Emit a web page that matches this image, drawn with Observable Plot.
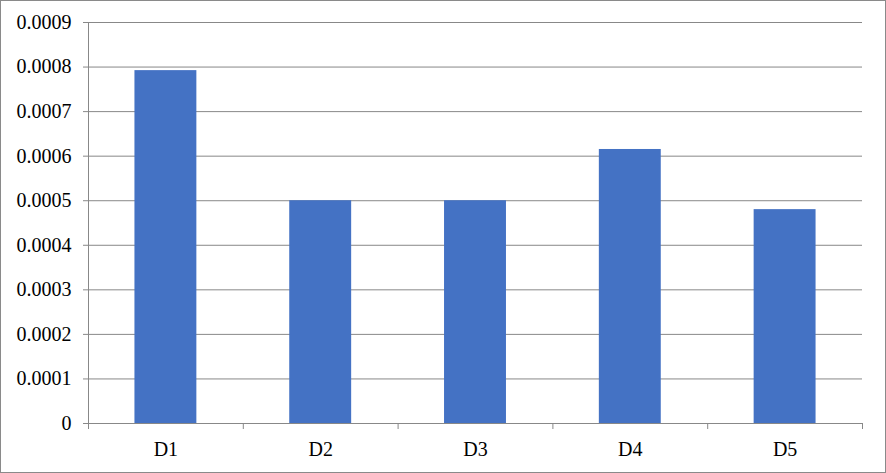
<!DOCTYPE html>
<html>
<head>
<meta charset="utf-8">
<script src="https://cdn.jsdelivr.net/npm/d3@7"></script>
<script src="https://cdn.jsdelivr.net/npm/@observablehq/plot@0.6"></script>
<style>
  html, body { margin: 0; padding: 0; background: #fff; }
  #chart svg { display: block; outline: 1px solid #8a8a8a; outline-offset: -1px; }
</style>
</head>
<body>
<div id="chart"></div>
<script>
const categories = ["D1", "D2", "D3", "D4", "D5"];
const values = [0.000792, 0.0005, 0.0005, 0.000615, 0.00048];
const yTicks = [0, 0.0001, 0.0002, 0.0003, 0.0004, 0.0005, 0.0006, 0.0007, 0.0008, 0.0009];

const data = categories.map((c, i) => ({cat: c, idx: i, value: values[i]}));
const gray = "#888888";

const chart = Plot.plot({
  width: 886,
  height: 473,
  marginLeft: 88,
  marginRight: 24,
  marginTop: 22,
  marginBottom: 50,
  style: {fontFamily: "'Liberation Serif', 'Times New Roman', serif", fontSize: "20px", color: "#000", background: "#fff"},
  x: {type: "linear", domain: [0, categories.length]},
  y: {domain: [0, 0.0009]},
  marks: [
    Plot.gridY(yTicks.slice(1), {stroke: gray, strokeOpacity: 1}),
    Plot.rectY(data, {x1: d => d.idx + 0.3, x2: d => d.idx + 0.7, y: "value", fill: "#4472C4"}),
    Plot.ruleY([0], {stroke: gray}),
    Plot.ruleX([0], {stroke: gray}),
    Plot.axisY({ticks: yTicks, tickSize: 5, tickPadding: 12, stroke: gray, tickFormat: d => d === 0 ? "0" : d.toFixed(4), fill: "#000", label: null}),
    Plot.axisX({ticks: d3.range(categories.length + 1), tickSize: 6, tickFormat: () => "", stroke: gray, label: null}),
    Plot.axisX({ticks: categories.map((c, i) => i + 0.5), tickSize: 0, tickPadding: 18, tickFormat: d => categories[Math.floor(d)], fill: "#000", label: null})
  ]
});
document.getElementById("chart").appendChild(chart);
</script>
</body>
</html>
